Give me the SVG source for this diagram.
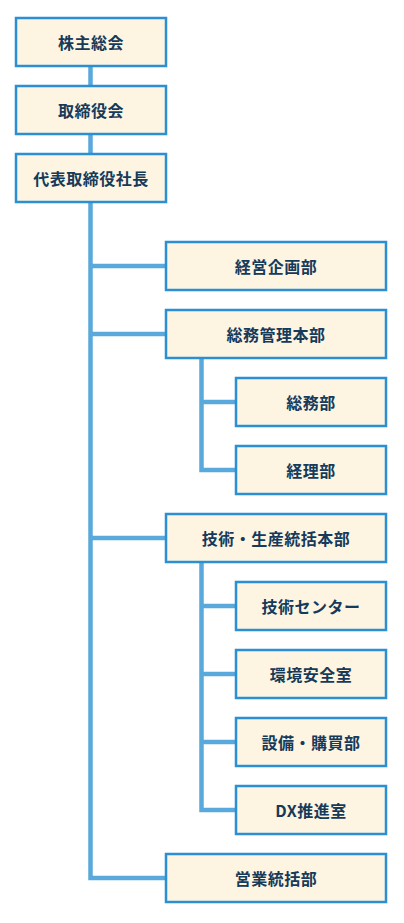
<svg xmlns="http://www.w3.org/2000/svg" width="404" height="923" viewBox="0 0 404 923">
<style>
.box{fill:#fdf5e2;stroke:#2b8fd3;stroke-width:2.5}
.t{font-family:"Noto Sans CJK JP","Noto Sans",sans-serif;font-weight:bold;font-size:16px;fill:#153a5a;text-anchor:middle;dominant-baseline:central;letter-spacing:0.5px}
.c{fill:none;stroke:#5aa9dc;stroke-width:4.5}
</style>
<rect width="404" height="923" fill="#fff"/>
<g id="connectors">
<path class="c" d="M90.5 66V86M90.5 134V154M90.5 202V878H166"/>
<path class="c" d="M90.5 266H166M90.5 334H166M90.5 538H166"/>
<path class="c" d="M201.5 358V470H236M201.5 402H236"/>
<path class="c" d="M201.5 562V810H236M201.5 606H236M201.5 674H236M201.5 742H236"/>
</g>
<g id="n1"><rect class="box" x="16" y="18" width="150" height="48"/><text class="t" x="91" y="42">株主総会</text></g>
<g id="n2"><rect class="box" x="16" y="86" width="150" height="48"/><text class="t" x="91" y="110">取締役会</text></g>
<g id="n3"><rect class="box" x="16" y="154" width="150" height="48"/><text class="t" x="91" y="178">代表取締役社長</text></g>
<g id="n4"><rect class="box" x="166" y="242" width="220" height="48"/><text class="t" x="276" y="266">経営企画部</text></g>
<g id="n5"><rect class="box" x="166" y="310" width="220" height="48"/><text class="t" x="276" y="334">総務管理本部</text></g>
<g id="n6"><rect class="box" x="236" y="378" width="150" height="48"/><text class="t" x="311" y="402">総務部</text></g>
<g id="n7"><rect class="box" x="236" y="446" width="150" height="48"/><text class="t" x="311" y="470">経理部</text></g>
<g id="n8"><rect class="box" x="166" y="514" width="220" height="48"/><text class="t" x="276" y="538">技術・生産統括本部</text></g>
<g id="n9"><rect class="box" x="236" y="582" width="150" height="48"/><text class="t" x="311" y="606">技術センター</text></g>
<g id="n10"><rect class="box" x="236" y="650" width="150" height="48"/><text class="t" x="311" y="674">環境安全室</text></g>
<g id="n11"><rect class="box" x="236" y="718" width="150" height="48"/><text class="t" x="311" y="742">設備・購買部</text></g>
<g id="n12"><rect class="box" x="236" y="786" width="150" height="48"/><text class="t" x="311" y="810">DX推進室</text></g>
<g id="n13"><rect class="box" x="166" y="854" width="220" height="48"/><text class="t" x="276" y="878">営業統括部</text></g>
</svg>
